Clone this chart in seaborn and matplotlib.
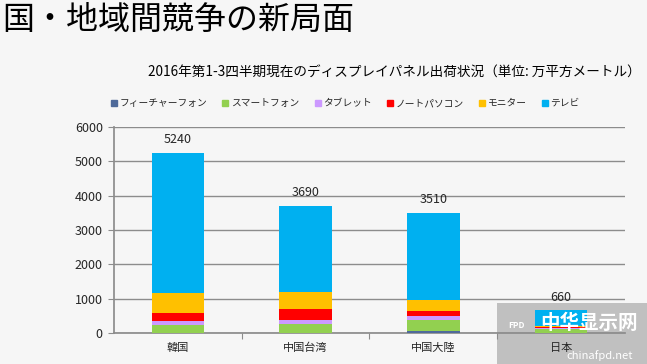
import numpy as np
import pandas as pd
import matplotlib
matplotlib.use("Agg")
import matplotlib.pyplot as plt
import seaborn as sns
from matplotlib.patches import Rectangle

# ==========================================
# データ (単位: 万平方メートル)
# ==========================================
regions = ['韓国', '中国台湾', '中国大陸', '日本']
feature_phone = [10, 10, 50, 10]
smartphone = [230, 240, 320, 120]
tablet = [100, 130, 130, 30]
notebook = [240, 310, 130, 30]
monitor = [600, 500, 320, 20]
tv = [4060, 2500, 2560, 450]

series_names = ['フィーチャーフォン', 'スマートフォン', 'タブレット', 'ノートパソコン', 'モニター', 'テレビ']
series_colors = ['#4F6A9A', '#92D050', '#CC99FF', '#FF0000', '#FFC000', '#00B0F0']
yticks = [0, 1000, 2000, 3000, 4000, 5000, 6000]

title = '国・地域間競争の新局面'
subtitle = '2016年第1-3四半期現在のディスプレイパネル出荷状況（単位: 万平方メートル）'

sns.set_theme(style="white")
plt.rcParams['font.family'] = ['Noto Sans CJK JP', 'DejaVu Sans']

BG = '#f6f6f6'
GRID = '#8c8c8c'
TEXT = '#262626'


def main():
    df = pd.DataFrame({'region': regions})
    layers = [feature_phone, smartphone, tablet, notebook, monitor, tv]
    for name, vals in zip(series_names, layers):
        df[name] = vals
    # 積み上げ用の累積値
    cum = df[series_names].cumsum(axis=1)
    totals = cum[series_names[-1]].values

    fig = plt.figure(figsize=(6.47, 3.64), dpi=100, facecolor=BG)
    ax = fig.add_axes([0.176, 0.085, 0.79, 0.566])
    ax.patch.set_alpha(0)

    # 上の層から順に累積値を描画（下の層が上書き）
    for name, color in reversed(list(zip(series_names, series_colors))):
        sns.barplot(x=df['region'], y=cum[name], color=color, width=0.41,
                    saturation=1, ax=ax, linewidth=0, zorder=3)

    # 合計値ラベル
    for i, t in enumerate(totals):
        ax.text(i, t + 200, f'{t:.0f}', ha='center', va='bottom', fontsize=9, color=TEXT)

    ax.set_ylim(0, 6000)
    ax.set_xlim(-0.5, 3.5)
    ax.set_yticks(yticks)
    ax.set_yticklabels([str(v) for v in yticks], fontsize=9, color=TEXT)
    ax.yaxis.grid(True, color=GRID, linewidth=1.0, zorder=0)
    ax.set_axisbelow(True)
    ax.set_xlabel('')
    ax.set_ylabel('')
    ax.tick_params(axis='x', length=0, labelsize=8, colors=TEXT, pad=7)
    ax.tick_params(axis='y', length=4, width=0.8, color=GRID, pad=4, left=True)
    ax.set_xticks([0.5, 1.5, 2.5], minor=True)
    ax.tick_params(axis='x', which='minor', length=4, width=0.8, color=GRID, bottom=True)
    for side in ['top', 'right']:
        ax.spines[side].set_visible(False)
    ax.spines['left'].set_color(GRID)
    ax.spines['bottom'].set_color(GRID)

    # 凡例
    handles = [plt.Line2D([], [], marker='s', linestyle='', markersize=5,
                          markerfacecolor=c, markeredgecolor=c) for c in series_colors]
    fig.legend(handles, series_names, loc='center left', bbox_to_anchor=(0.155, 0.717),
               ncol=6, frameon=False, fontsize=7, handletextpad=0.05, handlelength=1.0,
               columnspacing=1.4, labelcolor=TEXT)

    # タイトル
    fig.text(0.004, 0.945, title, fontsize=23, color='black', va='center', ha='left')
    fig.text(0.99, 0.80, subtitle, fontsize=9.8, color='black', va='center', ha='right')

    # 透かし（棒の背面）
    fig.patches.append(Rectangle((0.768, 0.0), 0.232, 0.168, transform=fig.transFigure,
                                 facecolor='#c0c0c0', edgecolor='none', zorder=-1))
    fig.text(0.785, 0.10, 'FPD', fontsize=6, color='white', fontweight='bold', zorder=6)
    fig.text(0.835, 0.095, '中华显示网', fontsize=14, color='white', fontweight='bold', zorder=6)
    fig.text(0.875, 0.015, 'chinafpd.net', fontsize=8, color='white', zorder=6)

    fig.savefig('out.png', dpi=100, facecolor=BG)


if __name__ == "__main__":
    main()
